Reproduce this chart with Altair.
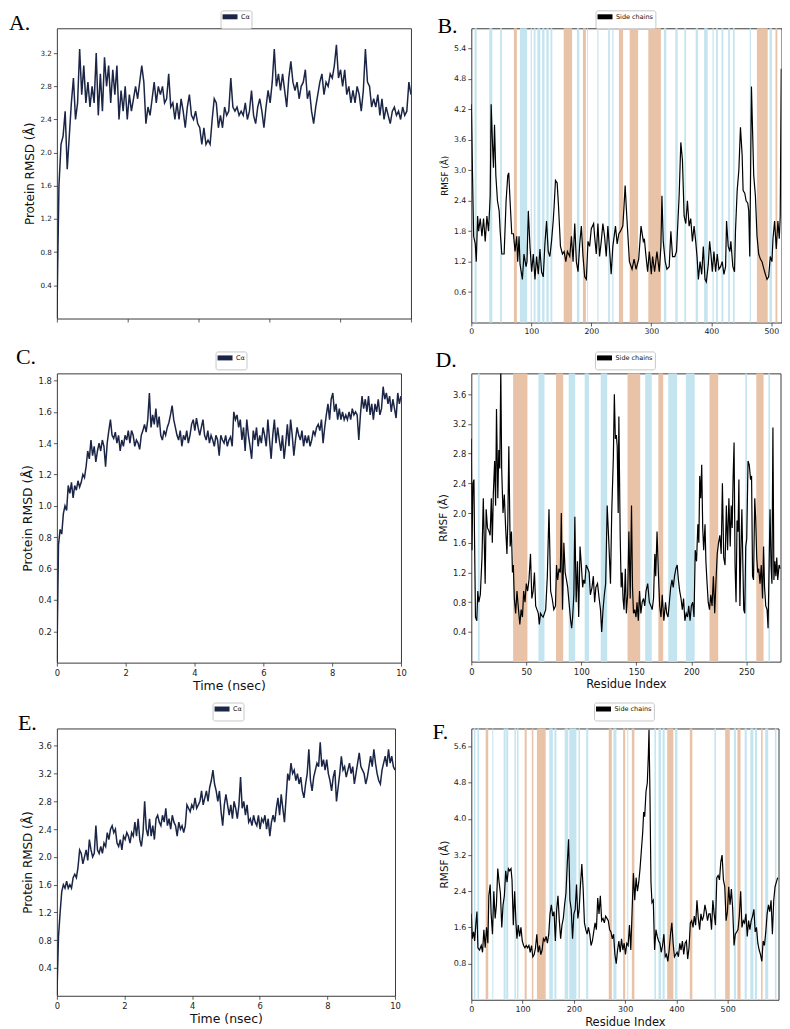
import altair as alt
import numpy as np
import pandas as pd

# ---------------- data ----------------
# RMSD traces (Angstrom), sampled evenly over 0-10 ns
A_rmsd = [0.0, 1.6, 2.1, 2.2, 2.5, 1.8, 2.2, 2.6, 2.9, 2.4, 2.6, 3.25, 2.7, 3.05, 2.6, 2.85, 2.55, 2.8, 2.6, 3.2,
          2.45, 2.95, 2.5, 3.15, 2.8, 3.05, 2.6, 3.0, 2.7, 3.05, 2.4, 2.75, 2.5, 2.8, 2.4, 2.7, 2.5, 2.65, 2.8, 2.65,
          2.85, 3.05, 2.85, 2.35, 2.55, 2.45, 2.65, 2.85, 2.6, 2.8, 2.7, 2.8, 2.6, 2.65, 2.95, 2.55, 2.6, 2.4, 2.6, 2.4,
          2.65, 2.5, 2.3, 2.55, 2.7, 2.45, 2.4, 2.5, 2.35, 2.3, 2.1, 2.3, 2.1, 2.15, 2.1, 2.4, 2.65, 2.6, 2.3, 2.45,
          2.3, 2.55, 2.45, 2.5, 2.9, 2.55, 2.5, 2.55, 2.45, 2.5, 2.45, 2.6, 2.4, 2.5, 2.75, 2.45, 2.35, 2.55, 2.65, 2.5,
          2.3, 2.55, 2.75, 2.6, 2.85, 3.25, 2.8, 2.95, 2.75, 2.95, 2.75, 2.55, 2.9, 3.1, 2.85, 2.75, 2.85, 2.65, 2.8, 2.85,
          3.0, 2.65, 2.75, 2.5, 2.35, 2.55, 2.7, 2.85, 2.95, 2.7, 2.85, 2.8, 2.95, 2.9, 3.05, 3.3, 2.9, 3.0, 2.8, 3.0,
          2.7, 2.8, 2.6, 2.75, 2.6, 2.8, 2.7, 2.5, 2.75, 3.25, 2.85, 2.8, 2.55, 2.65, 2.55, 2.7, 2.45, 2.65, 2.4, 2.55,
          2.45, 2.35, 2.5, 2.55, 2.45, 2.5, 2.4, 2.55, 2.45, 2.5, 2.85, 2.7]

C_rmsd = [0.0, 0.75, 0.85, 0.82, 0.95, 1.0, 0.97, 1.13, 1.08, 1.15, 1.05, 1.13, 1.1, 1.16, 1.12, 1.15, 1.2, 1.18, 1.25, 1.35,
          1.3, 1.42, 1.32, 1.38, 1.28, 1.35, 1.4, 1.35, 1.42, 1.38, 1.25, 1.4, 1.48, 1.55, 1.45, 1.43, 1.47, 1.4, 1.45, 1.35,
          1.42, 1.38, 1.45, 1.42, 1.48, 1.4, 1.48, 1.45, 1.38, 1.42, 1.4, 1.36, 1.45, 1.48, 1.52, 1.47, 1.55, 1.72, 1.5, 1.58,
          1.52, 1.62, 1.5, 1.57, 1.45, 1.42, 1.48, 1.45, 1.5, 1.53, 1.58, 1.64, 1.55, 1.5, 1.45, 1.42, 1.48, 1.38, 1.45, 1.42,
          1.48, 1.4, 1.45, 1.52, 1.55, 1.48, 1.56, 1.5, 1.45, 1.5, 1.55, 1.45, 1.42, 1.48, 1.4, 1.45, 1.42, 1.38, 1.45, 1.42,
          1.32, 1.45, 1.42, 1.4, 1.45, 1.38, 1.42, 1.44, 1.38, 1.6, 1.55, 1.58, 1.5, 1.55, 1.42, 1.5, 1.35, 1.55, 1.45, 1.38,
          1.3, 1.48, 1.42, 1.5, 1.38, 1.45, 1.4, 1.5, 1.45, 1.38, 1.55, 1.42, 1.3, 1.45, 1.55, 1.4, 1.5, 1.42, 1.35, 1.45,
          1.3, 1.4, 1.52, 1.38, 1.55, 1.45, 1.32, 1.42, 1.5, 1.45, 1.42, 1.48, 1.38, 1.45, 1.4, 1.45, 1.38, 1.42, 1.48, 1.45,
          1.5, 1.52, 1.48, 1.55, 1.4, 1.5, 1.58, 1.65, 1.55, 1.68, 1.72, 1.6, 1.65, 1.55, 1.62, 1.55, 1.6, 1.55, 1.58, 1.55,
          1.6, 1.55, 1.62, 1.58, 1.6, 1.58, 1.42, 1.58, 1.7, 1.62, 1.68, 1.6, 1.7, 1.58, 1.65, 1.55, 1.65, 1.6, 1.68, 1.58,
          1.62, 1.76, 1.68, 1.72, 1.65, 1.7, 1.6, 1.68, 1.62, 1.56, 1.72, 1.65, 1.7]

E_rmsd = [0.0, 0.85, 1.2, 1.5, 1.6, 1.55, 1.65, 1.55, 1.6, 1.55, 1.7, 1.75, 1.7, 1.85, 2.1, 2.05, 1.9, 2.0, 2.1, 1.95,
          2.25, 2.1, 2.0, 2.05, 2.45, 2.1, 2.05, 2.15, 2.05, 2.2, 2.15, 2.35, 2.25, 2.4, 2.45, 2.35, 2.4, 2.2, 2.15, 2.25,
          2.1, 2.3, 2.25, 2.35, 2.3, 2.2, 2.35, 2.3, 2.5, 2.3, 2.55, 2.25, 2.15, 2.35, 2.8, 2.4, 2.3, 2.55, 2.3, 2.45,
          2.25, 2.55, 2.6, 2.5, 2.45, 2.6, 2.5, 2.7, 2.45, 2.55, 2.4, 2.6, 2.5, 2.45, 2.3, 2.5, 2.4, 2.45, 2.35, 2.45,
          2.75, 2.7, 2.65, 2.75, 2.7, 2.85, 2.7, 2.75, 2.8, 2.95, 2.75, 2.85, 2.95, 2.8, 3.0, 3.1, 3.25, 3.05, 2.95, 2.8,
          2.95, 2.65, 2.45, 2.75, 2.9, 2.75, 2.6, 2.75, 2.55, 2.8, 2.7, 2.55, 2.75, 3.15, 2.7, 2.8, 2.6, 2.75, 2.5, 2.55,
          2.45, 2.6, 2.5, 2.45, 2.6, 2.4, 2.55, 2.5, 2.6, 2.4, 2.55, 2.3, 2.5, 2.6, 2.5, 2.7, 2.85, 2.6, 2.9, 2.7,
          2.5, 2.85, 3.2, 3.1, 3.35, 3.2, 3.25, 3.1, 3.2, 3.05, 3.15, 2.95, 2.85, 3.05, 3.2, 3.55, 3.1, 2.95, 3.15, 3.25,
          3.35, 3.3, 3.65, 3.3, 3.4, 3.25, 3.4, 3.2, 3.1, 2.95, 3.15, 3.25, 2.8, 3.0, 3.2, 3.45, 3.25, 3.3, 3.15, 3.25,
          3.35, 3.2, 3.3, 3.05, 3.2, 3.35, 3.5, 3.3, 3.25, 3.2, 3.05, 3.15, 3.3, 3.45, 3.3, 3.55, 3.35, 3.2, 3.1, 3.05,
          3.25, 3.35, 3.45, 3.3, 3.55, 3.35, 3.45, 3.3, 3.25]

# RMSF traces: residue index and RMSF (Angstrom)
B_res = [0, 2.2, 3.9, 6.6, 8.3, 10.5, 12.2, 14.9, 17.7, 20.4,
         23.2, 26, 28.7, 31.5, 33.1, 35.4, 37, 38.7, 40.9, 43.6,
         46.4, 48.1, 50.8, 54.7, 58, 60.8, 62.4, 64.6, 67.4, 70.2,
         72.9, 75.7, 77.3, 79.6, 81.2, 85.1, 87.8, 91.2, 92.8, 95,
         97.8, 100.6, 103.3, 106.1, 108.8, 111.6, 114.4, 117.1, 119.9, 122.7,
         125.4, 128.2, 130.9, 133.7, 136.5, 138.1, 140.3, 143.1, 145.3, 148.6,
         151.9, 154.7, 157.5, 160.2, 164.1, 166.9, 169.6, 172.4, 175.1, 177.9,
         180.7, 183.4, 186.2, 189, 191.7, 194.5, 197.2, 200, 203.9, 205.5,
         208.3, 211, 213.8, 216.6, 219.3, 222.1, 224.9, 227.6, 230.4, 233.1,
         235.9, 240.3, 243.1, 245.9, 248.6, 252.5, 254.1, 256.4, 259.1, 263.5,
         267.9, 271.3, 274.6, 279, 282.9, 286.7, 288.4, 291.2, 293.9, 296.7,
         300, 302.2, 305.5, 309.4, 313.3, 316, 317.7, 319.9, 323.2, 326,
         329.8, 332.6, 335.4, 339.2, 342, 346.4, 349.2, 351.9, 354.7, 357.5,
         360.2, 363, 365.7, 368.5, 371.3, 374, 376.2, 378.5, 381.2, 384,
         386.7, 389.5, 391.7, 395, 397.2, 399.4, 401.7, 404.4, 407.2, 409.9,
         412.7, 415.5, 418.2, 421, 423.8, 425.4, 428.2, 430.9, 432.6, 435.9,
         438.7, 440.3, 443.1, 445.9, 448.6, 451.4, 453, 455.8, 458, 460.8,
         462.4, 464.1, 466.9, 470.7, 473.5, 476.2, 479, 481.8, 484.5, 488.9,
         492.8, 495.6, 498.3, 501.1, 502.8, 505.5, 508.3, 511, 513.3, 514.9,
         516.6]
B_rmsf = [4.3, 2.8, 1.7, 1.55, 1.2, 2.1, 1.8, 2.05, 1.7, 2.05,
          1.6, 2.1, 1.8, 2.5, 4.3, 3.5, 3.05, 3.9, 2.9, 2.4,
          2.2, 1.8, 1.35, 1.35, 2.4, 2.9, 2.95, 2.4, 1.75, 1.75,
          1.4, 1.7, 1.2, 1.7, 1.15, 0.85, 1.35, 1.1, 1.2, 2.2,
          1.5, 1.0, 1.35, 0.85, 1.3, 0.95, 1.45, 1.0, 0.9, 1.55,
          2.0, 1.4, 1.3, 1.6, 2.0, 2.3, 2.8, 2.75, 2.3, 1.5,
          1.35, 1.4, 1.2, 1.4, 1.3, 1.7, 1.2, 1.95, 1.2, 1.0,
          1.55, 1.9, 1.3, 0.9, 0.85, 1.6, 1.5, 1.85, 1.95, 1.7,
          1.35, 1.95, 1.3, 1.6, 1.95, 1.7, 1.3, 1.9, 1.45, 0.95,
          1.5, 1.9, 1.55, 1.75, 1.8, 1.9, 2.2, 2.7, 2.1, 1.2,
          1.05, 1.25, 1.05, 1.25, 1.9, 1.6, 1.65, 1.3, 1.0, 1.4,
          0.95, 1.3, 1.0, 1.4, 1.0, 1.5, 2.5, 1.6, 1.2, 1.05,
          1.1, 1.8, 1.3, 1.3, 1.4, 2.5, 3.55, 3.2, 2.1, 1.95,
          2.4, 1.9, 2.05, 1.6, 1.9, 1.6, 1.3, 0.85, 1.2, 0.95,
          1.5, 0.85, 0.8, 1.15, 1.6, 1.35, 1.0, 1.4, 1.0, 1.35,
          1.05, 1.1, 1.2, 0.95, 1.1, 2.0, 1.5, 1.4, 1.6, 1.1,
          1.0, 1.8, 2.6, 3.0, 3.85, 3.3, 2.6, 2.55, 2.4, 2.35,
          2.2, 1.3, 4.65, 2.9, 2.5, 1.7, 1.35, 1.25, 1.2, 1.0,
          0.85, 0.9, 1.3, 1.2, 1.65, 2.0, 1.45, 2.0, 1.65, 2.1,
          5.0]

D_res = [0, 0.6, 1.5, 2.4, 2.9, 3.8, 5, 5.9, 6.8, 8.2,
         9.7, 10.9, 11.8, 12.6, 13.5, 14.7, 16.2, 17.1, 18.2, 19.1,
         20, 21.2, 22.1, 22.9, 24.1, 25, 25.9, 26.8, 27.6, 28.8,
         30, 31.2, 32.4, 33.2, 34.1, 35.3, 36.5, 37.4, 38.2, 39.1,
         40.3, 41.5, 42.6, 44.1, 45.3, 46.5, 47.6, 48.8, 50, 51.2,
         52.4, 53.8, 55, 56.2, 57.4, 58.5, 59.7, 60.9, 61.8, 62.9,
         64.1, 65.3, 66.5, 67.6, 69.1, 70.6, 72.1, 73.5, 75, 76.5,
         77.4, 78.5, 79.7, 80.9, 81.8, 82.9, 84.1, 85.3, 86.5, 87.6,
         88.8, 90.3, 91.2, 92.1, 93.2, 94.1, 95.3, 96.5, 97.6, 98.8,
         100, 101.2, 102.1, 103.2, 104.4, 105.9, 107.1, 108.2, 109.7, 110.9,
         112.1, 113.2, 114.7, 116.2, 117.4, 118.5, 119.7, 120.9, 122.1, 123.5,
         125, 126.5, 127.6, 129.1, 130, 130.9, 131.8, 132.6, 133.5, 134.1,
         135.3, 136.2, 137.1, 137.9, 138.8, 140, 140.9, 142.1, 143.2, 144.4,
         145.6, 146.5, 147.4, 148.5, 149.7, 150.6, 151.8, 152.9, 154.1, 155.3,
         156.5, 157.6, 158.8, 160.3, 161.8, 163.2, 164.4, 165.6, 166.8, 167.6,
         168.8, 170, 171.2, 172.4, 173.5, 175, 176.5, 177.6, 178.8, 180,
         181.2, 182.4, 183.5, 184.7, 185.9, 187.1, 188.2, 189.4, 190.6, 191.8,
         192.9, 194.1, 195.3, 196.5, 197.6, 198.8, 200, 201.2, 202.4, 203.5,
         204.7, 205.9, 206.8, 207.6, 208.5, 209.4, 210.3, 211.2, 212.4, 213.2,
         214.1, 215.3, 216.5, 217.6, 218.8, 220, 221.2, 222.4, 223.5, 224.7,
         225.9, 227.1, 228.2, 229.4, 230.6, 231.8, 232.9, 234.1, 235.3, 236.2,
         237.1, 237.9, 238.8, 239.7, 240.6, 241.5, 242.4, 243.2, 244.1, 245,
         245.9, 246.8, 247.6, 248.5, 249.4, 250.3, 251.5, 252.6, 253.8, 254.7,
         255.6, 256.5, 257.6, 258.5, 259.4, 260.3, 261.2, 262.4, 263.5, 264.7,
         265.6, 266.5, 267.6, 268.8, 269.7, 270.6, 271.5, 272.4, 273.2, 274.1,
         275, 275.9, 276.8, 277.6, 278.5, 279.7, 280.9]
D_rmsf = [3.0, 1.5, 2.4, 2.45, 1.7, 0.6, 0.55, 0.95, 0.8, 0.9,
          1.4, 2.2, 1.6, 1.05, 2.05, 1.8, 1.75, 1.7, 2.2, 1.6,
          2.25, 2.7, 2.1, 3.4, 2.2, 2.85, 2.6, 3.95, 2.6, 2.0,
          2.25, 1.8, 1.45, 1.9, 2.9, 1.55, 1.75, 1.2, 1.3, 0.85,
          0.65, 0.95, 0.75, 0.5, 0.7, 0.6, 0.95, 0.8, 1.05, 0.95,
          1.1, 1.45, 0.85, 0.95, 1.2, 0.75, 0.7, 0.65, 0.5, 0.65,
          0.62, 0.6, 0.65, 0.7, 1.15, 2.05, 0.95, 0.85, 0.7, 0.75,
          1.3, 1.1, 1.25, 1.2, 2.0, 0.7, 1.6, 1.2, 1.1, 1.0,
          0.8, 0.55, 0.45, 0.6, 0.9, 1.95, 0.8, 1.35, 0.6, 1.55,
          1.3, 1.0, 1.1, 1.05, 1.3, 1.25, 1.2, 0.9, 1.0, 1.15,
          0.8, 1.0, 1.05, 0.85, 0.7, 0.4, 0.7, 0.9, 1.05, 2.1,
          1.6, 1.05, 2.0, 2.75, 3.6, 3.0, 3.05, 2.9, 2.0, 3.3,
          1.7, 1.0, 1.2, 0.85, 0.7, 1.25, 0.65, 0.9, 1.75, 0.85,
          2.1, 1.0, 0.65, 0.7, 0.6, 0.8, 0.55, 0.95, 0.65, 0.8,
          0.85, 0.75, 0.95, 1.05, 0.8, 0.75, 0.7, 0.85, 1.45, 1.15,
          1.75, 1.2, 0.75, 0.6, 0.9, 0.55, 0.8, 0.65, 0.6, 0.8,
          1.0, 1.1, 1.0, 1.15, 1.25, 1.3, 1.1, 0.95, 0.85, 0.7,
          0.85, 0.55, 0.65, 0.6, 0.75, 0.55, 0.75, 0.8, 0.6, 1.5,
          1.35, 1.85, 1.6, 2.5, 2.2, 2.65, 1.8, 1.5, 1.85, 1.35,
          1.1, 0.8, 0.7, 0.9, 0.75, 1.15, 0.65, 1.1, 1.45, 1.6,
          1.7, 1.45, 2.4, 1.4, 1.3, 2.1, 1.5, 2.2, 1.55, 2.1,
          1.8, 2.45, 2.95, 1.3, 0.8, 1.9, 1.75, 2.45, 0.75, 1.5,
          2.05, 1.3, 0.7, 0.65, 1.55, 1.65, 2.7, 2.65, 2.45, 2.5,
          1.15, 1.1, 2.2, 1.9, 1.4, 1.2, 1.25, 1.05, 1.3, 0.85,
          1.55, 1.0, 0.75, 0.7, 0.45, 1.25, 2.05, 1.3, 1.05, 3.15,
          1.1, 1.35, 1.15, 1.4, 1.1, 1.3, 1.25]

F_res = [0, 1.9, 4.5, 6.5, 9, 11, 12.9, 16.1, 19.4, 21.9,
         24.5, 27.1, 29.7, 32.3, 34.2, 36.8, 38.7, 41.3, 43.9, 46.5,
         49, 51.6, 54.2, 56.8, 59.4, 61.9, 64.5, 67.1, 69.7, 72.3,
         74.8, 77.4, 79.4, 81.9, 84.5, 87.1, 89, 91.6, 94.2, 96.8,
         99.4, 101.9, 104.5, 107.1, 109.7, 112.3, 114.8, 117.4, 120, 122.6,
         125.2, 127.7, 130.3, 132.9, 135.5, 138.1, 140.6, 143.2, 145.8, 148.4,
         151, 153.5, 156.1, 158.7, 161.3, 163.9, 166.5, 169, 171.6, 174.2,
         176.8, 179.4, 181.9, 184.5, 187.1, 189.7, 192.3, 194.8, 197.4, 200,
         202.6, 205.2, 207.7, 210.3, 212.9, 215.5, 218.1, 220.6, 223.2, 225.8,
         228.4, 231, 233.5, 236.1, 238.7, 241.3, 243.9, 246.5, 249, 251.6,
         254.2, 256.8, 259.4, 261.9, 264.5, 267.1, 269.7, 272.3, 274.8, 277.4,
         280, 282.6, 285.2, 287.7, 290.3, 292.9, 295.5, 298.1, 300.6, 303.2,
         305.8, 308.4, 311, 313.5, 316.1, 318.7, 321.3, 323.9, 326.5, 329,
         331.6, 334.2, 336.1, 338.1, 340.6, 343.2, 345.2, 346.5, 348.4, 350.3,
         352.3, 354.8, 357.4, 360, 362.6, 365.2, 367.7, 370.3, 372.9, 375.5,
         378.1, 380.6, 383.2, 385.8, 388.4, 391, 393.5, 396.1, 398.7, 401.3,
         403.9, 406.5, 409, 411.6, 414.2, 416.8, 419.4, 421.9, 424.5, 427.1,
         429.7, 432.3, 434.8, 437.4, 440, 442.6, 445.2, 447.7, 450.3, 452.9,
         455.5, 458.1, 460.6, 463.2, 465.8, 468.4, 471, 473.5, 476.1, 478.7,
         481.3, 483.9, 486.5, 489, 491.6, 494.2, 496.8, 499.4, 501.9, 504.5,
         507.1, 509.7, 512.3, 514.8, 517.4, 520, 522.6, 525.2, 527.7, 530.3,
         532.9, 535.5, 538.1, 540.6, 543.2, 545.8, 548.4, 551, 553.5, 556.1,
         558.7, 561.3, 563.9, 566.5, 569, 571.6, 574.2, 576.8, 579.4, 581.9,
         584.5, 587.1, 589.7, 592.3, 594.8, 597.4]
F_rmsf = [1.9, 1.35, 1.5, 1.3, 1.7, 1.95, 1.15, 1.1, 1.2, 1.05,
          1.55, 1.15, 1.6, 1.25, 2.3, 2.55, 1.9, 1.45, 2.4, 1.8,
          2.1, 2.9, 2.6, 2.35, 1.6, 2.1, 2.3, 2.85, 2.6, 2.9,
          2.85, 2.9, 2.65, 1.65, 2.4, 1.7, 1.35, 1.65, 1.4, 1.6,
          1.3, 1.2, 1.15, 1.2, 1.15, 1.2, 1.05, 1.2, 0.95, 1.0,
          1.15, 1.45, 1.05, 1.2, 1.0, 1.1, 1.35, 1.3, 1.4, 1.25,
          1.45, 1.9, 2.1, 1.85, 1.95, 1.3, 2.0, 2.3, 1.75, 1.35,
          1.65, 1.8, 2.1, 2.35, 3.0, 3.55, 2.2, 2.0, 1.35, 1.9,
          2.0, 2.55, 1.8, 2.0, 2.55, 3.0, 2.45, 1.7, 1.55, 1.45,
          1.6, 1.45, 1.2, 1.3, 1.5, 1.7, 1.55, 2.25, 1.9, 2.3,
          1.75, 1.8, 1.7, 1.85, 1.8, 1.75, 1.55, 1.5, 1.35, 1.45,
          1.0, 0.8, 1.1, 1.3, 1.05, 1.35, 1.1, 1.25, 1.0, 1.25,
          1.2, 1.65, 1.1, 1.95, 2.8, 2.2, 2.7, 2.4, 2.6, 2.9,
          3.3, 3.7, 4.15, 4.05, 4.6, 4.8, 5.4, 5.97, 4.5, 2.6,
          2.15, 2.2, 1.1, 1.55, 1.4, 1.3, 1.25, 1.05, 1.2, 1.45,
          0.95, 1.0, 0.85, 1.1, 1.45, 1.7, 1.25, 0.95, 1.0, 1.05,
          0.95, 1.25, 1.1, 1.3, 1.0, 1.25, 1.3, 0.9, 1.15, 1.7,
          1.75, 1.6, 1.85, 1.65, 2.2, 1.8, 1.55, 1.9, 1.75, 1.85,
          2.1, 1.95, 1.75, 1.9, 1.9, 1.55, 2.2, 1.9, 1.65, 2.7,
          2.75, 2.65, 3.05, 3.2, 2.65, 2.5, 1.75, 1.95, 2.5, 2.1,
          2.45, 2.0, 1.2, 1.45, 1.5, 1.55, 1.85, 2.4, 1.6, 1.75,
          1.7, 1.9, 1.4, 1.75, 1.55, 1.75, 1.85, 2.0, 1.5, 1.6,
          1.25, 1.1, 1.0, 0.85, 1.3, 1.2, 1.5, 1.9, 2.1, 1.95,
          2.2, 1.45, 2.2, 2.5, 2.6, 2.7]

# secondary-structure spans (residue start, residue end)
B_helix = [(71, 76), (154, 168), (186, 191), (246, 253), (264, 278), (295, 316), (476, 494), (507, 510)]
B_strand = [(5.5, 9), (30, 35), (48, 51), (81, 93), (99, 101), (104, 107), (110, 115), (118, 122), (125, 129),
            (132, 135), (176, 180), (193, 194.5), (210, 212), (228, 231), (235, 237), (321, 325), (340, 344),
            (355, 358), (374, 378), (388, 394), (402, 404), (408, 411), (417, 420), (428, 431), (436, 439),
            (464, 466), (497, 501)]
D_helix = [(38, 51), (77, 83.5), (142, 153.5), (170, 174.4), (216.5, 224.4), (259, 265.6)]
D_strand = [(6, 7.6), (61, 66.5), (88.5, 94.4), (103, 107), (117.6, 123.5), (158, 164), (179, 187), (195, 203),
            (249, 250.6), (270, 271.5)]
F_helix = [(28, 33), (104, 108), (118, 121), (128, 145), (268, 274), (296, 300), (313, 318), (382, 394),
           (426, 431), (495, 504), (519, 525), (565, 568)]
F_strand = [(5, 8), (12, 15), (41, 43), (63, 67), (68, 72), (84, 87), (89, 92), (152, 159), (162, 166), (182, 189),
            (191, 205), (209, 212), (224, 228), (277, 283), (304, 306), (357, 360), (365, 370), (373, 377),
            (397, 402), (474, 477), (512, 516), (533, 537), (544, 550), (553, 557), (573, 579), (592, 595)]

# tick values
T_time = [0, 2, 4, 6, 8, 10]
A_yticks = [0.4, 0.8, 1.2, 1.6, 2.0, 2.4, 2.8, 3.2]
B_yticks = [0.6, 1.2, 1.8, 2.4, 3.0, 3.6, 4.2, 4.8, 5.4]
C_yticks = [0.2, 0.4, 0.6, 0.8, 1.0, 1.2, 1.4, 1.6, 1.8]
D_yticks = [0.4, 0.8, 1.2, 1.6, 2.0, 2.4, 2.8, 3.2, 3.6]
E_yticks = [0.4, 0.8, 1.2, 1.6, 2.0, 2.4, 2.8, 3.2, 3.6]
F_yticks = [0.8, 1.6, 2.4, 3.2, 4.0, 4.8, 5.6]
B_xticks = [0, 100, 200, 300, 400, 500]
D_xticks = [0, 50, 100, 150, 200, 250]
F_xticks = [0, 100, 200, 300, 400, 500]

NAVY = "#1b2546"
BLACK = "#000000"
ORANGE = "#e9c3a7"
BLUE = "#c4e5f0"


def rmsd_df(vals, label):
    return pd.DataFrame({"x": np.linspace(0.0, 10.0, len(vals)), "v": vals, "s": label})


def rmsf_df(res, vals, label):
    return pd.DataFrame({"x": res, "v": vals, "s": label})


def legend_width(label):
    # approximate box width: symbol column + label (DejaVu Sans 6.5px) + padding
    return 10 + 6 + 0.6 * 6.5 * len(label) + 3


def make_panel(df, xdom, xticks, xlabels, xtitle, xtsize, ydom, yticks, ytitle, ytsize, lsize,
               series, color, sw, w, h, ly, letter, ldx, ldy, helix=(), strand=()):
    xscale = alt.Scale(domain=xdom, nice=False, zero=False)
    xaxis = alt.Axis(values=xticks, labels=xlabels, title=xtitle, titleFontSize=xtsize,
                     labelFontSize=lsize, format="d", titlePadding=3)
    layers = []
    for spans, col in ((strand, BLUE), (helix, ORANGE)):
        if spans:
            bdf = pd.DataFrame({"a": [s[0] for s in spans], "b": [s[1] for s in spans]})
            layers.append(
                alt.Chart(bdf).mark_rect(color=col, strokeWidth=0).encode(
                    x=alt.X("a:Q", scale=xscale, axis=xaxis), x2="b:Q"))
    legend = alt.Legend(title=None, orient="none", legendX=w / 2 - legend_width(series) / 2, legendY=ly,
                        symbolType="M-3,0H3", symbolSize=25, symbolStrokeWidth=5, symbolOffset=3,
                        labelOffset=6, labelFontSize=6.5, labelFont="DejaVu Sans", labelColor="#111",
                        padding=1.5, strokeColor="#c8c8c8", fillColor="white", cornerRadius=2)
    line = alt.Chart(df).mark_line(strokeWidth=sw, clip=True).encode(
        x=alt.X("x:Q", scale=xscale, axis=xaxis),
        y=alt.Y("v:Q", scale=alt.Scale(domain=ydom, nice=False, zero=False),
                axis=alt.Axis(values=yticks, format=".1f", title=ytitle, titleFontSize=ytsize,
                              labelFontSize=lsize)),
        color=alt.Color("s:N", scale=alt.Scale(domain=[series], range=[color]), legend=legend))
    lab = alt.Chart(pd.DataFrame({"lab": [letter]})).mark_text(
        align="left", baseline="alphabetic", font="Liberation Serif", fontSize=22, color="#000"
    ).encode(text="lab:N", x=alt.value(ldx), y=alt.value(ldy))
    layers += [line, lab]
    return alt.layer(*layers).properties(width=w, height=h)


RMSD_T = "Protein RMSD (Å)"
RMSF_T = "RMSF (Å)"
CA = "Cα"
SC = "Side chains"

pA = make_panel(rmsd_df(A_rmsd, CA), [0, 10], T_time, False, None, 12.5, [0, 3.5], A_yticks, RMSD_T, 12, 7.2,
                CA, NAVY, 1.5, 355, 291, -18, "A.", -48, 2)
pB = make_panel(rmsf_df(B_res, B_rmsf, SC), [0, 517], B_xticks, True, None, 11.5, [0, 5.8], B_yticks, RMSF_T, 8.8,
                7.8, SC, BLACK, 1.2, 311, 295, -18, "B.", -34, 5, B_helix, B_strand)
pC = make_panel(rmsd_df(C_rmsd, CA), [0, 10], T_time, True, "Time (nsec)", 12.5, [0, 1.845], C_yticks, RMSD_T,
                12.5, 8.4, CA, NAVY, 1.5, 345, 290, -22, "C.", -41, -9)
pD = make_panel(rmsf_df(D_res, D_rmsf, SC), [0, 281], D_xticks, True, "Residue Index", 11.5, [0, 3.88], D_yticks,
                RMSF_T, 10.5, 8.4, SC, BLACK, 1.2, 310, 289, -22, "D.", -36, -6, D_helix, D_strand)
pE = make_panel(rmsd_df(E_rmsd, CA), [0, 10], T_time, True, "Time (nsec)", 12.5, [0, 3.85], E_yticks, RMSD_T,
                12, 8.4, CA, NAVY, 1.5, 339, 268, -26, "E.", -39, 2)
pF = make_panel(rmsf_df(F_res, F_rmsf, SC), [0, 599], F_xticks, True, "Residue Index", 11.5, [0, 6.0], F_yticks,
                RMSF_T, 10.5, 8.0, SC, BLACK, 1.2, 308, 272, -26, "F.", -39, 11, F_helix, F_strand)

chart = alt.concat(pA, pB, pC, pD, pE, pF, columns=2, spacing={"row": 9, "column": 19.5},
                   align="each", bounds="full", padding=0)
chart = chart.resolve_scale(color="independent").resolve_legend(color="independent")
chart = chart.configure_axis(
    domain=False, grid=False, tickColor="#333333", tickSize=3.5, tickWidth=0.8, labelColor="#222222",
    labelFont="DejaVu Sans", labelPadding=2, labelFlush=False, titleFont="DejaVu Sans",
    titleFontWeight="normal", titleColor="#111111", titlePadding=4
).configure_view(stroke="#3a3a3a", strokeWidth=1)

chart.save("out.html", embed_options={"renderer": "svg", "actions": False})
